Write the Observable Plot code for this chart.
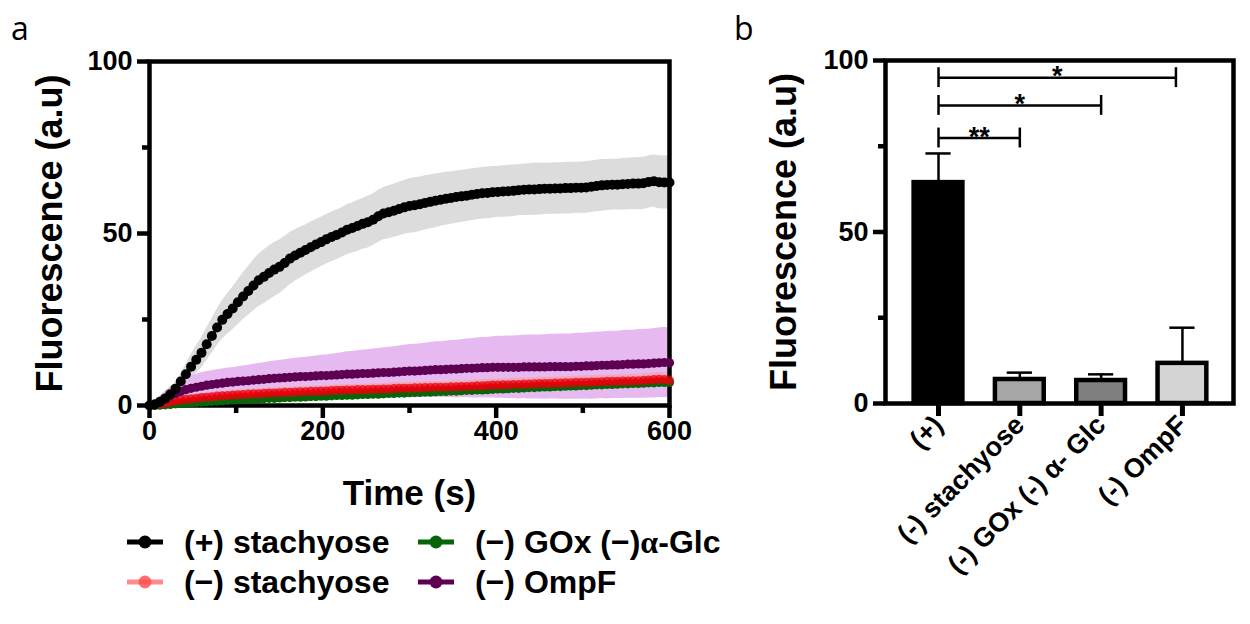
<!DOCTYPE html>
<html>
<head>
<meta charset="utf-8">
<script src="https://cdn.jsdelivr.net/npm/d3@7"></script>
<script src="https://cdn.jsdelivr.net/npm/@observablehq/plot@0.6"></script>
<style>
html, body { margin: 0; padding: 0; background: #fff; width: 1250px; height: 624px; overflow: hidden; }
#root { position: relative; width: 1250px; height: 624px; font-family: "Liberation Sans", Arial, Helvetica, sans-serif; }
.abs { position: absolute; }
.leg { position: absolute; display: flex; align-items: center; font-size: 32px; font-weight: bold; white-space: nowrap; height: 40px; color: #000; }
.leg svg { margin-right: 21px; flex: none; }
</style>
</head>
<body>
<div id="root">
  <div id="panelA" class="abs" style="left:0;top:0"></div>
  <div id="panelB" class="abs" style="left:720px;top:0"></div>
  <svg class="abs" style="left:0;top:0;pointer-events:none" width="1250" height="624">
    <text x="11" y="40" font-family="'Open Sans', sans-serif" font-size="32">a</text>
    <text x="734" y="40" font-family="'Open Sans', sans-serif" font-size="32">b</text>
  </svg>
  <div id="legend"></div>
</div>
<script>
// ---------- Panel a data ----------
const times = [0,6,12,18,24,30,36,42,48,54,
  60,66,72,78,84,90,96,102,108,114,
  120,126,132,138,144,150,156,162,168,174,
  180,186,192,198,204,210,216,222,228,234,
  240,246,252,258,264,270,276,282,288,294,
  300,306,312,318,324,330,336,342,348,354,
  360,366,372,378,384,390,396,402,408,414,
  420,426,432,438,444,450,456,462,468,474,
  480,486,492,498,504,510,516,522,528,534,
  540,546,552,558,564,570,576,582,588,594,
  600];

const meanPlus = [0,0.3,1.0,2.0,3.3,4.9,7.0,9.1,11.3,13.3,
  15.3,17.8,20.2,22.7,24.9,26.6,28.2,30.0,31.7,33.3,
  34.9,36.4,37.4,38.5,39.5,40.3,41.4,42.7,43.6,44.4,
  45.2,46.0,46.8,47.5,48.3,49.0,49.6,50.3,51.1,51.6,
  52.2,52.8,53.3,54.0,55.0,55.8,56.2,56.6,57.1,57.6,
  58.0,58.2,58.5,58.9,59.2,59.5,59.8,60.1,60.3,60.6,
  60.8,61.0,61.3,61.5,61.7,61.8,62.0,62.1,62.2,62.3,
  62.4,62.6,62.7,62.8,62.8,62.9,63.0,63.0,63.1,63.1,
  63.2,63.2,63.3,63.3,63.4,63.6,63.8,64.0,64.1,64.2,
  64.2,64.3,64.4,64.5,64.5,64.6,65.0,65.2,64.9,64.8,
  64.8];
const sdPlus = [0,0.2,0.5,0.9,1.3,1.8,2.3,2.9,3.5,4.0,
  4.4,4.7,5.0,5.3,5.6,5.9,6.2,6.5,6.8,7.1,
  7.4,7.6,7.8,7.9,7.9,7.8,7.7,7.6,7.5,7.4,
  7.3,7.3,7.2,7.2,7.2,7.2,7.2,7.2,7.3,7.3,
  7.4,7.4,7.5,7.5,7.6,7.6,7.7,7.7,7.8,7.8,
  7.9,8.0,7.9,7.9,7.8,7.8,7.7,7.7,7.6,7.6,
  7.6,7.5,7.5,7.5,7.5,7.5,7.5,7.4,7.5,7.5,
  7.5,7.4,7.5,7.5,7.6,7.5,7.5,7.4,7.5,7.5,
  7.5,7.5,7.4,7.4,7.5,7.5,7.5,7.5,7.4,7.4,
  7.4,7.5,7.5,7.5,7.6,7.6,7.6,7.6,7.7,7.7,
  7.7];

const meanMinusStach = [0,0.2,0.4,0.7,1.0,1.3,1.6,1.8,1.9,2.1,
  2.3,2.4,2.5,2.7,2.8,2.9,3.0,3.1,3.2,3.3,
  3.4,3.4,3.5,3.6,3.6,3.7,3.8,3.8,3.9,4.0,
  4.0,4.1,4.1,4.2,4.2,4.3,4.4,4.4,4.5,4.5,
  4.6,4.6,4.6,4.7,4.7,4.8,4.8,4.9,5.0,5.0,
  5.0,5.1,5.1,5.2,5.2,5.3,5.3,5.3,5.4,5.4,
  5.5,5.5,5.6,5.7,5.7,5.8,5.9,5.9,6.0,6.0,
  6.1,6.1,6.2,6.2,6.3,6.4,6.4,6.4,6.5,6.5,
  6.6,6.6,6.7,6.7,6.7,6.8,6.8,6.9,7.0,7.0,
  7.0,7.1,7.1,7.2,7.2,7.3,7.4,7.5,7.6,7.5,
  7.3];
const sdMinusStach = [0.1,0.3,0.5,0.7,0.8,0.9,1.0,1.1,1.1,1.2,
  1.2,1.2,1.3,1.3,1.3,1.3,1.3,1.4,1.4,1.4,
  1.4,1.4,1.4,1.4,1.5,1.5,1.5,1.5,1.5,1.5,
  1.5,1.5,1.5,1.5,1.5,1.6,1.6,1.6,1.6,1.6,
  1.6,1.6,1.6,1.6,1.6,1.6,1.6,1.7,1.7,1.7,
  1.7,1.7,1.7,1.7,1.7,1.7,1.7,1.7,1.7,1.7,
  1.7,1.7,1.7,1.8,1.8,1.8,1.8,1.8,1.8,1.8,
  1.8,1.8,1.8,1.8,1.8,1.8,1.8,1.8,1.8,1.8,
  1.8,1.8,1.8,1.9,1.9,1.9,1.9,1.9,1.9,1.9,
  1.9,1.9,1.9,1.9,1.9,1.9,1.9,2.0,2.0,2.0,
  2.0];

const meanGox = [0,0.0,0.1,0.2,0.3,0.5,0.6,0.7,0.8,0.9,
  1.0,1.1,1.2,1.3,1.4,1.5,1.6,1.7,1.7,1.8,
  1.9,1.9,2.0,2.1,2.1,2.2,2.3,2.3,2.4,2.4,
  2.5,2.6,2.6,2.7,2.7,2.8,2.9,2.9,3.0,3.0,
  3.1,3.2,3.2,3.3,3.3,3.4,3.5,3.5,3.6,3.6,
  3.7,3.8,3.8,3.9,3.9,4.0,4.1,4.1,4.2,4.2,
  4.3,4.4,4.4,4.5,4.5,4.6,4.7,4.8,4.8,4.9,
  5.0,5.0,5.1,5.2,5.2,5.3,5.4,5.4,5.5,5.5,
  5.6,5.7,5.7,5.8,5.8,5.9,6.0,6.0,6.1,6.1,
  6.2,6.3,6.3,6.4,6.4,6.5,6.6,6.6,6.7,6.7,
  6.7];
const sdGox = [0.1,0.1,0.2,0.2,0.3,0.3,0.3,0.4,0.4,0.4,
  0.4,0.4,0.5,0.5,0.5,0.5,0.5,0.5,0.6,0.6,
  0.6,0.6,0.6,0.6,0.6,0.6,0.6,0.7,0.7,0.7,
  0.7,0.7,0.7,0.7,0.7,0.7,0.7,0.7,0.8,0.8,
  0.8,0.8,0.8,0.8,0.8,0.8,0.8,0.8,0.8,0.8,
  0.8,0.8,0.9,0.9,0.9,0.9,0.9,0.9,0.9,0.9,
  0.9,0.9,0.9,0.9,0.9,0.9,0.9,0.9,0.9,0.9,
  0.9,0.9,1.0,1.0,1.0,1.0,1.0,1.0,1.0,1.0,
  1.0,1.0,1.0,1.0,1.0,1.0,1.0,1.0,1.0,1.0,
  1.0,1.0,1.0,1.0,1.0,1.0,1.0,1.0,1.0,1.0,
  1.0];

const meanOmpf = [0,0.4,1.2,2.0,2.8,3.5,4.1,4.6,5.0,5.3,
  5.6,5.9,6.1,6.3,6.5,6.7,6.8,7.0,7.1,7.2,
  7.4,7.5,7.6,7.8,7.9,8.0,8.1,8.2,8.3,8.4,
  8.4,8.5,8.6,8.7,8.7,8.8,8.9,9.0,9.1,9.1,
  9.2,9.3,9.3,9.4,9.5,9.6,9.6,9.7,9.8,9.9,
  10.0,10.0,10.1,10.2,10.3,10.4,10.4,10.5,10.6,10.6,
  10.7,10.8,10.8,10.9,11.0,11.0,11.1,11.1,11.1,11.1,
  11.1,11.1,11.2,11.2,11.2,11.2,11.2,11.3,11.3,11.3,
  11.3,11.3,11.4,11.4,11.5,11.5,11.6,11.7,11.7,11.8,
  11.8,11.9,12.0,12.0,12.1,12.1,12.2,12.3,12.4,12.5,
  12.4];
const sdOmpf = [0.3,0.8,1.5,2.1,2.6,3.0,3.3,3.5,3.7,3.8,
  3.9,4.0,4.0,4.1,4.1,4.2,4.2,4.3,4.4,4.5,
  4.6,4.7,4.8,4.9,5.0,5.1,5.2,5.3,5.4,5.5,
  5.6,5.7,5.8,5.9,6.0,6.1,6.2,6.3,6.5,6.6,
  6.7,6.8,6.9,7.0,7.1,7.2,7.3,7.4,7.5,7.6,
  7.7,7.8,7.8,7.9,8.0,8.1,8.1,8.2,8.3,8.4,
  8.4,8.5,8.6,8.7,8.8,8.8,8.9,9.0,9.0,9.1,
  9.1,9.2,9.2,9.3,9.3,9.3,9.4,9.4,9.4,9.5,
  9.5,9.5,9.6,9.6,9.6,9.7,9.7,9.7,9.8,9.8,
  9.8,9.9,9.9,9.9,10.0,10.0,10.0,10.1,10.1,10.2,
  10.2];

const seriesLabels = ["(+) stachyose", "(−) stachyose", "(−) GOx (−)α-Glc", "(−) OmpF"];
const seriesDotColors = ["#000000", "#e8000b", "#0a640a", "#5e0052"];
const seriesDotOpacity = [1, 0.75, 1, 1];
const seriesBandColors = ["#dcdcdc", "#f7a1a7", "#aad6aa", "#e7b9f1"];
const seriesBandOpacity = [1, 0.75, 0.6, 1];
const seriesMeans = [meanPlus, meanMinusStach, meanGox, meanOmpf];
const seriesSDs = [sdPlus, sdMinusStach, sdGox, sdOmpf];

const xMajorTicks = [0, 200, 400, 600];
const xMinorTicks = [100, 300, 500];
const yMajorTicks = [0, 50, 100];
const yMinorTicks = [25, 75];

// ---------- Panel b data ----------
const barCats = ["(+)", "(-) stachyose", "(-) GOx (-) α- Glc", "(-) OmpF"];
const barMeans = [64.4, 7.0, 6.7, 11.7];
const barSDs = [8.5, 2.0, 1.8, 10.4];
const barFills = ["#000000", "#a6a6a6", "#7f7f7f", "#d4d4d4"];
const sigFrom = [0, 0, 0];
const sigTo = [1, 2, 2.92];
const sigLevels = [77.4, 86.9, 95.0];
const sigLabels = ["**", "*", "*"];

// ---------- build ----------
const font = '"Liberation Sans", Arial, Helvetica, sans-serif';
const baseStyle = {fontFamily: font, fontWeight: "bold", fontSize: "27px", color: "#000", background: "transparent", overflow: "visible"};
const tickFont = 27;

const rows = seriesMeans.map((m, k) => times.map((t, i) => ({t, mean: m[i], lo: m[i] - seriesSDs[k][i], hi: m[i] + seriesSDs[k][i]})));

const bandOrder = [0, 3, 2, 1];
const lineOrder = [2, 1, 3, 0];

const plotA = Plot.plot({
  width: 720, height: 520,
  marginLeft: 149, marginRight: 51, marginTop: 61, marginBottom: 115,
  x: {domain: [0, 600], label: null},
  y: {domain: [0, 100], label: null},
  style: baseStyle,
  marks: [
    ...bandOrder.map(k => Plot.areaY(rows[k], {x: "t", y1: "lo", y2: "hi", fill: seriesBandColors[k], fillOpacity: seriesBandOpacity[k]})),
    Plot.frame({strokeWidth: 4.5}),
    Plot.axisX({ticks: xMajorTicks, tickSize: 13, tickPadding: 2, strokeWidth: 4.5, fontSize: tickFont, fontWeight: "bold", label: null}),
    Plot.axisX({ticks: xMinorTicks, tickSize: 8, strokeWidth: 4.5, fill: "none", label: null}),
    Plot.axisY({ticks: yMajorTicks, tickSize: 12, tickPadding: 5, strokeWidth: 4.5, fontSize: tickFont, fontWeight: "bold", label: null}),
    Plot.axisY({ticks: yMinorTicks, tickSize: 7, strokeWidth: 4.5, fill: "none", label: null}),
    ...lineOrder.flatMap(k => [
      Plot.line(rows[k], {x: "t", y: "mean", stroke: seriesDotColors[k], strokeWidth: 3, strokeOpacity: seriesDotOpacity[k]}),
      Plot.dot(rows[k], {x: "t", y: "mean", r: k === 0 ? 5 : 4.6, fill: seriesDotColors[k], fillOpacity: seriesDotOpacity[k], stroke: "none"})
    ]),
    Plot.text(["Time (s)"], {frameAnchor: "bottom", dy: 99, text: d => d, fontSize: 35, textAnchor: "middle"}),
    Plot.text(["Fluorescence (a.u)"], {frameAnchor: "left", dx: -99, rotate: -90, text: d => d, fontSize: 36, textAnchor: "middle"})
  ]
});
document.getElementById("panelA").appendChild(plotA);

const barRows = barCats.map((c, i) => ({i, c, m: barMeans[i], sd: barSDs[i], fill: barFills[i]}));
const sigRows = sigLevels.map((y, k) => ({x1: sigFrom[k], x2: sigTo[k], y, label: sigLabels[k]}));

const plotB = Plot.plot({
  width: 530, height: 624,
  marginLeft: 165, marginRight: 17, marginTop: 60, marginBottom: 221,
  x: {domain: [-0.652, 3.628], label: null},
  y: {domain: [0, 100], label: null},
  color: {type: "identity"},
  style: baseStyle,
  marks: [
    Plot.ruleX(barRows, {x: "i", y1: "m", y2: d => d.m + d.sd, strokeWidth: 2.5}),
    Plot.ruleY(barRows, {y: d => d.m + d.sd, x1: d => d.i - 0.155, x2: d => d.i + 0.155, strokeWidth: 2.5}),
    Plot.rectY(barRows, {x1: d => d.i - 0.3, x2: d => d.i + 0.3, y1: 0, y2: "m", fill: "fill", stroke: "#000", strokeWidth: 4.5}),
    Plot.frame({strokeWidth: 4.5}),
    Plot.axisX({ticks: [0, 1, 2, 3], tickFormat: i => barCats[i], tickRotate: -45, tickSize: 13, tickPadding: 4, strokeWidth: 5, fontSize: tickFont, fontWeight: "bold", label: null}),
    Plot.axisY({ticks: yMajorTicks, tickSize: 12, tickPadding: 5, strokeWidth: 4.5, fontSize: tickFont, fontWeight: "bold", label: null}),
    Plot.axisY({ticks: yMinorTicks, tickSize: 7, strokeWidth: 4.5, fill: "none", label: null}),
    Plot.ruleY(sigRows, {y: "y", x1: "x1", x2: "x2", strokeWidth: 2.5}),
    Plot.ruleX(sigRows, {x: "x1", y1: d => d.y - 2.9, y2: d => d.y + 2.9, strokeWidth: 2.5}),
    Plot.ruleX(sigRows, {x: "x2", y1: d => d.y - 2.9, y2: d => d.y + 2.9, strokeWidth: 2.5}),
    Plot.text(sigRows, {x: d => (d.x1 + d.x2) / 2, y: "y", text: "label", fontSize: 27, fontWeight: "bold", dy: -1}),
    Plot.text(["Fluorescence (a.u)"], {frameAnchor: "left", dx: -101, rotate: -90, text: d => d, fontSize: 36, textAnchor: "middle"})
  ]
});
document.getElementById("panelB").appendChild(plotB);

// ---------- legend ----------
const legendCols = [127, 418];
const legendRows = [542, 582];
const legend = document.getElementById("legend");
seriesLabels.forEach((lab, k) => {
  const col = Math.floor(k / 2), row = k % 2;
  const div = document.createElement("div");
  div.className = "leg";
  div.style.left = legendCols[col] + "px";
  div.style.top = (legendRows[row] - 20) + "px";
  const lineCol = k === 1 ? "#ff6f6f" : seriesDotColors[k];
  const dotCol = k === 1 ? "#ff4a4a" : seriesDotColors[k];
  const op = k === 1 ? 0.8 : 1;
  div.innerHTML = `<svg width="36" height="16"><line x1="0" x2="36" y1="8" y2="8" stroke="${lineCol}" stroke-opacity="${op}" stroke-width="5"/><circle cx="18" cy="8" r="6.5" fill="${dotCol}" fill-opacity="${op}"/></svg>`;
  const span = document.createElement("span");
  const parts = lab.split("α");
  parts.forEach((p, j) => {
    span.appendChild(document.createTextNode(p));
    if (j < parts.length - 1) {
      const a = document.createElement("span");
      a.textContent = "α";
      a.style.fontFamily = '"Liberation Serif", "DejaVu Serif", serif';
      span.appendChild(a);
    }
  });
  div.appendChild(span);
  legend.appendChild(div);
});
</script>
</body>
</html>
